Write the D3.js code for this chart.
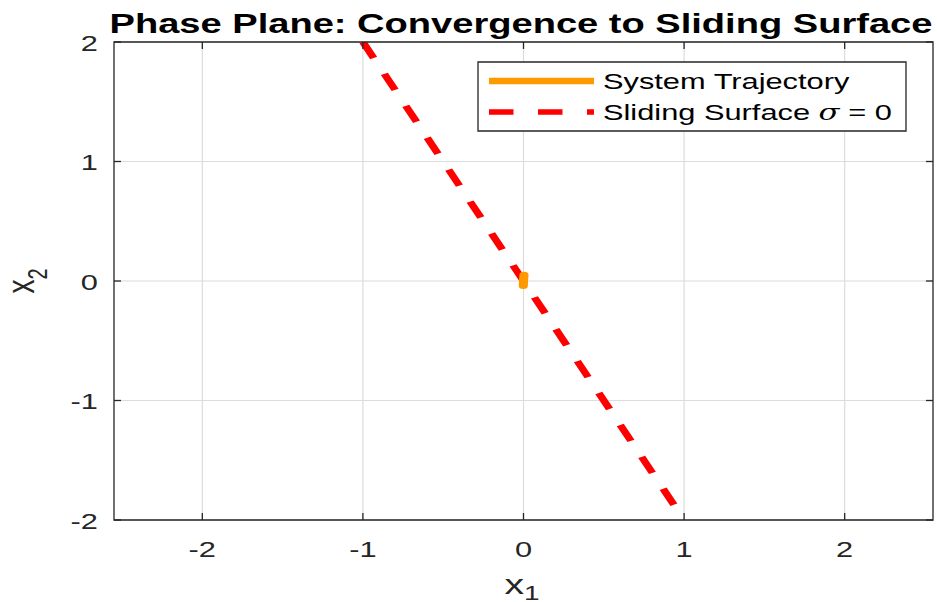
<!DOCTYPE html>
<html>
<head>
<meta charset="utf-8">
<script src="https://cdn.jsdelivr.net/npm/d3@7"></script>
<style>
  html, body { margin: 0; padding: 0; background: #fff; }
  svg { display: block; font-family: "Liberation Sans", Arial, sans-serif; }
</style>
</head>
<body>
<svg id="chart"></svg>
<script>
// chart values
const xTicks = [-2, -1, 0, 1, 2];
const yTicks = [-2, -1, 0, 1, 2];
const xDomain = [-2.55, 2.55];
const yDomain = [-2, 2];

// sliding surface sigma = 0 (x2 = -2 x1)
const surfaceX1 = [-1, 1];
const surfaceX2 = [2, -2];

// system trajectory (sits right at the origin)
const trajX1 = [0.003, 0.001, 0, -0.001];
const trajX2 = [0.05, 0.02, 0, -0.04];

const legendLabels = ['System Trajectory', 'Sliding Surface '];
const titleText = 'Phase Plane: Convergence to Sliding Surface';

// the reference picture is stretched sideways, so draw in a squeezed viewBox
const W = 937, H = 602;
const S = 1.4;
const u = (px) => px / S; // screen px -> user units (horizontal)

const margin = { left: 114, right: 933, top: 42, bottom: 520 };

const svg = d3.select('#chart')
  .attr('width', W)
  .attr('height', H)
  .attr('viewBox', `0 0 ${W / S} ${H}`)
  .attr('preserveAspectRatio', 'none');

const x = d3.scaleLinear().domain(xDomain).range([u(margin.left), u(margin.right)]);
const y = d3.scaleLinear().domain(yDomain).range([margin.bottom, margin.top]);

const axisColor = '#262626';
const gridColor = '#dcdcdc';

// grid
const grid = svg.append('g');
grid.selectAll('line.gx')
  .data(xTicks)
  .join('line')
  .attr('class', 'gx')
  .attr('x1', (d) => x(d)).attr('x2', (d) => x(d))
  .attr('y1', margin.top).attr('y2', margin.bottom)
  .attr('stroke', gridColor)
  .attr('stroke-width', 1.2)
  .attr('vector-effect', 'non-scaling-stroke');
grid.selectAll('line.gy')
  .data(yTicks)
  .join('line')
  .attr('class', 'gy')
  .attr('x1', u(margin.left)).attr('x2', u(margin.right))
  .attr('y1', (d) => y(d)).attr('y2', (d) => y(d))
  .attr('stroke', gridColor)
  .attr('stroke-width', 1.2)
  .attr('vector-effect', 'non-scaling-stroke');

// clip for the data
svg.append('clipPath').attr('id', 'plotclip')
  .append('rect')
  .attr('x', u(margin.left)).attr('y', margin.top)
  .attr('width', u(margin.right) - u(margin.left))
  .attr('height', margin.bottom - margin.top);

const plot = svg.append('g').attr('clip-path', 'url(#plotclip)');

const line = d3.line().x((d) => x(d[0])).y((d) => y(d[1]));

plot.append('path')
  .datum(d3.zip(surfaceX1, surfaceX2))
  .attr('d', line)
  .attr('fill', 'none')
  .attr('stroke', '#ff0000')
  .attr('stroke-width', 5.5)
  .attr('stroke-dasharray', '17.7,17.7');

plot.append('path')
  .datum(d3.zip(trajX1, trajX2))
  .attr('d', line)
  .attr('fill', 'none')
  .attr('stroke', '#ff9900')
  .attr('stroke-width', 6.5)
  .attr('stroke-linecap', 'round')
  .attr('stroke-linejoin', 'round');

// box + inward ticks
const tickLen = 7;
const axes = svg.append('g')
  .attr('stroke', axisColor)
  .attr('stroke-width', 1.3)
  .attr('fill', 'none');
axes.append('rect')
  .attr('x', u(margin.left)).attr('y', margin.top)
  .attr('width', u(margin.right) - u(margin.left))
  .attr('height', margin.bottom - margin.top)
  .attr('vector-effect', 'non-scaling-stroke');
xTicks.forEach((t) => {
  axes.append('line').attr('x1', x(t)).attr('x2', x(t))
    .attr('y1', margin.bottom).attr('y2', margin.bottom - tickLen)
    .attr('vector-effect', 'non-scaling-stroke');
  axes.append('line').attr('x1', x(t)).attr('x2', x(t))
    .attr('y1', margin.top).attr('y2', margin.top + tickLen)
    .attr('vector-effect', 'non-scaling-stroke');
});
yTicks.forEach((t) => {
  axes.append('line').attr('x1', u(margin.left)).attr('x2', u(margin.left + tickLen))
    .attr('y1', y(t)).attr('y2', y(t))
    .attr('vector-effect', 'non-scaling-stroke');
  axes.append('line').attr('x1', u(margin.right)).attr('x2', u(margin.right - tickLen))
    .attr('y1', y(t)).attr('y2', y(t))
    .attr('vector-effect', 'non-scaling-stroke');
});

// tick labels
svg.append('g')
  .selectAll('text')
  .data(xTicks)
  .join('text')
  .attr('x', (d) => x(d))
  .attr('y', 557)
  .attr('text-anchor', 'middle')
  .attr('font-size', 22)
  .attr('fill', axisColor)
  .text((d) => d);

svg.append('g')
  .selectAll('text')
  .data(yTicks)
  .join('text')
  .attr('x', u(98))
  .attr('y', (d) => y(d) + 9)
  .attr('text-anchor', 'end')
  .attr('font-size', 22)
  .attr('fill', axisColor)
  .text((d) => d);

// axis labels
const xl = svg.append('text')
  .attr('x', u(522))
  .attr('y', 594)
  .attr('text-anchor', 'middle')
  .attr('font-size', 28)
  .attr('fill', axisColor);
xl.append('tspan').text('x');
xl.append('tspan').attr('dy', 6).attr('font-size', 20).text('1');

const yl = svg.append('text')
  .attr('transform', `translate(${u(34)},281) rotate(-90)`)
  .attr('text-anchor', 'middle')
  .attr('font-size', 28)
  .attr('fill', axisColor);
yl.append('tspan').text('x');
yl.append('tspan').attr('dy', 9).attr('font-size', 20).text('2');

// title
svg.append('text')
  .attr('x', u(521))
  .attr('y', 33)
  .attr('text-anchor', 'middle')
  .attr('font-size', 27.2)
  .attr('font-weight', 'bold')
  .attr('fill', '#000')
  .text(titleText);

// legend
const lg = svg.append('g');
lg.append('rect')
  .attr('x', u(478)).attr('y', 62)
  .attr('width', u(906) - u(478)).attr('height', 69)
  .attr('fill', '#fff')
  .attr('stroke', axisColor)
  .attr('stroke-width', 1.3)
  .attr('vector-effect', 'non-scaling-stroke');
lg.append('line')
  .attr('x1', u(489)).attr('x2', u(594))
  .attr('y1', 81).attr('y2', 81)
  .attr('stroke', '#ff9900')
  .attr('stroke-width', 6.5);
lg.append('line')
  .attr('x1', u(489)).attr('x2', u(594))
  .attr('y1', 112).attr('y2', 112)
  .attr('stroke', '#ff0000')
  .attr('stroke-width', 5.5)
  .attr('stroke-dasharray', '17.5,17.5');
lg.append('text')
  .attr('x', u(603)).attr('y', 89)
  .attr('font-size', 22)
  .attr('fill', '#000')
  .text(legendLabels[0]);
const l2 = lg.append('text')
  .attr('x', u(603)).attr('y', 120)
  .attr('font-size', 22)
  .attr('fill', '#000');
l2.append('tspan').text(legendLabels[1]);
l2.append('tspan').attr('font-style', 'italic').attr('font-family', '"DejaVu Serif", "Liberation Serif", serif').text('σ');
l2.append('tspan').text(' = 0');
</script>
</body>
</html>
